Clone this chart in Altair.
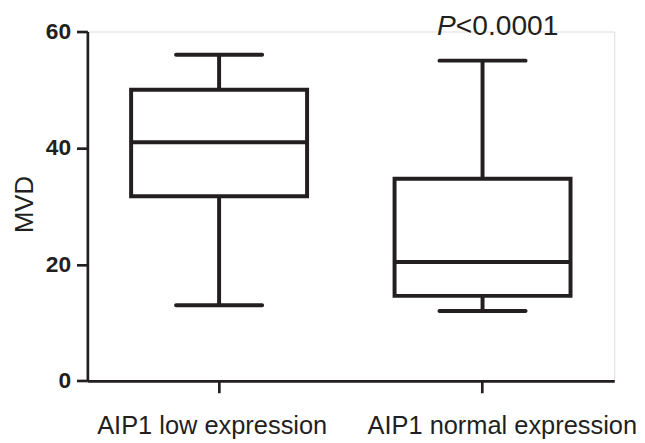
import altair as alt
import pandas as pd

groups = ["AIP1 low expression", "AIP1 normal expression"]
mins = [13.0, 12.0]
q1s = [31.7, 14.6]
medians = [41.0, 20.4]
q3s = [50.0, 34.7]
maxs = [56.0, 55.0]

annot_group = ["AIP1 normal expression"]
annot_y = [59.4]
annot_p = ["P"]
annot_rest = ["<0.0001"]

y_title = ["MVD"]
y_ticks = [0, 20, 40, 60]

df = pd.DataFrame({"group": groups, "lo": mins, "q1": q1s, "med": medians, "q3": q3s, "hi": maxs})
ann = pd.DataFrame({"group": annot_group, "y": annot_y, "p": annot_p, "rest": annot_rest})
ttl = pd.DataFrame({"t": y_title})

INK = "#231f20"
FONT = "Liberation Sans"

x_axis = alt.Axis(
    title=None, labelAngle=0, labelFontSize=25.7, labelFont=FONT, labelColor=INK, labelLimit=0,
    labelPadding=21, tickSize=12, tickWidth=2.7, tickColor=INK,
    domainWidth=2.7, domainColor=INK, labelBaseline="top", grid=False,
    labelOffset={"condition": {"test": "datum.value == 'AIP1 low expression'", "value": -7}, "value": 20},
)
x_enc = alt.X("group:N", sort=groups, scale=alt.Scale(paddingInner=0.3, paddingOuter=0.15), axis=x_axis)
y_scale = alt.Scale(domain=[0, 60], nice=False, zero=True)
y_axis = alt.Axis(
    title=None, values=y_ticks, grid=False, labelFontSize=23, labelFontWeight="bold",
    labelFont=FONT, labelColor=INK, labelPadding=6, tickSize=11, tickWidth=2.7, tickColor=INK,
    domainWidth=2.7, domainColor=INK,
)

base = alt.Chart(df)

whisker = base.mark_rule(strokeWidth=4, color=INK).encode(
    x=x_enc, y=alt.Y("lo:Q", scale=y_scale, axis=y_axis), y2="hi:Q"
)
box = base.mark_bar(size=178, fill="white", stroke=INK, strokeWidth=4).encode(
    x=x_enc, y=alt.Y("q1:Q", scale=y_scale, axis=y_axis), y2="q3:Q"
)
median = base.mark_tick(size=178, thickness=4, color=INK, opacity=1).encode(
    x=x_enc, y=alt.Y("med:Q", scale=y_scale, axis=y_axis)
)
cap_lo = base.mark_tick(size=91, thickness=4, color=INK, opacity=1, cornerRadius=2).encode(
    x=x_enc, y=alt.Y("lo:Q", scale=y_scale, axis=y_axis)
)
cap_hi = base.mark_tick(size=91, thickness=4, color=INK, opacity=1, cornerRadius=2).encode(
    x=x_enc, y=alt.Y("hi:Q", scale=y_scale, axis=y_axis)
)

p_text = alt.Chart(ann).mark_text(
    font=FONT, fontSize=28.5, fontStyle="italic", align="right", baseline="alphabetic", dx=-27, color=INK
).encode(x=x_enc, y=alt.Y("y:Q", scale=y_scale, axis=y_axis), text="p:N")
rest_text = alt.Chart(ann).mark_text(
    font=FONT, fontSize=28.5, align="left", baseline="alphabetic", dx=-27, color=INK
).encode(x=x_enc, y=alt.Y("y:Q", scale=y_scale, axis=y_axis), text="rest:N")

title_text = alt.Chart(ttl).mark_text(
    font=FONT, fontSize=26, angle=270, align="center", baseline="alphabetic", color=INK
).encode(x=alt.value(-55), y=alt.value(175), text="t:N")

chart = (
    alt.layer(whisker, box, median, cap_lo, cap_hi, p_text, rest_text, title_text)
    .properties(
        width=533, height=353.4,
        autosize=alt.AutoSizeParams(type="none"),
        padding={"left": 80.3, "top": 21.3, "right": 23, "bottom": 58},
    )
    .configure_view(stroke=None)
    .configure(background="white")
)

chart.save("out.html", embed_options={"renderer": "svg", "actions": False})
